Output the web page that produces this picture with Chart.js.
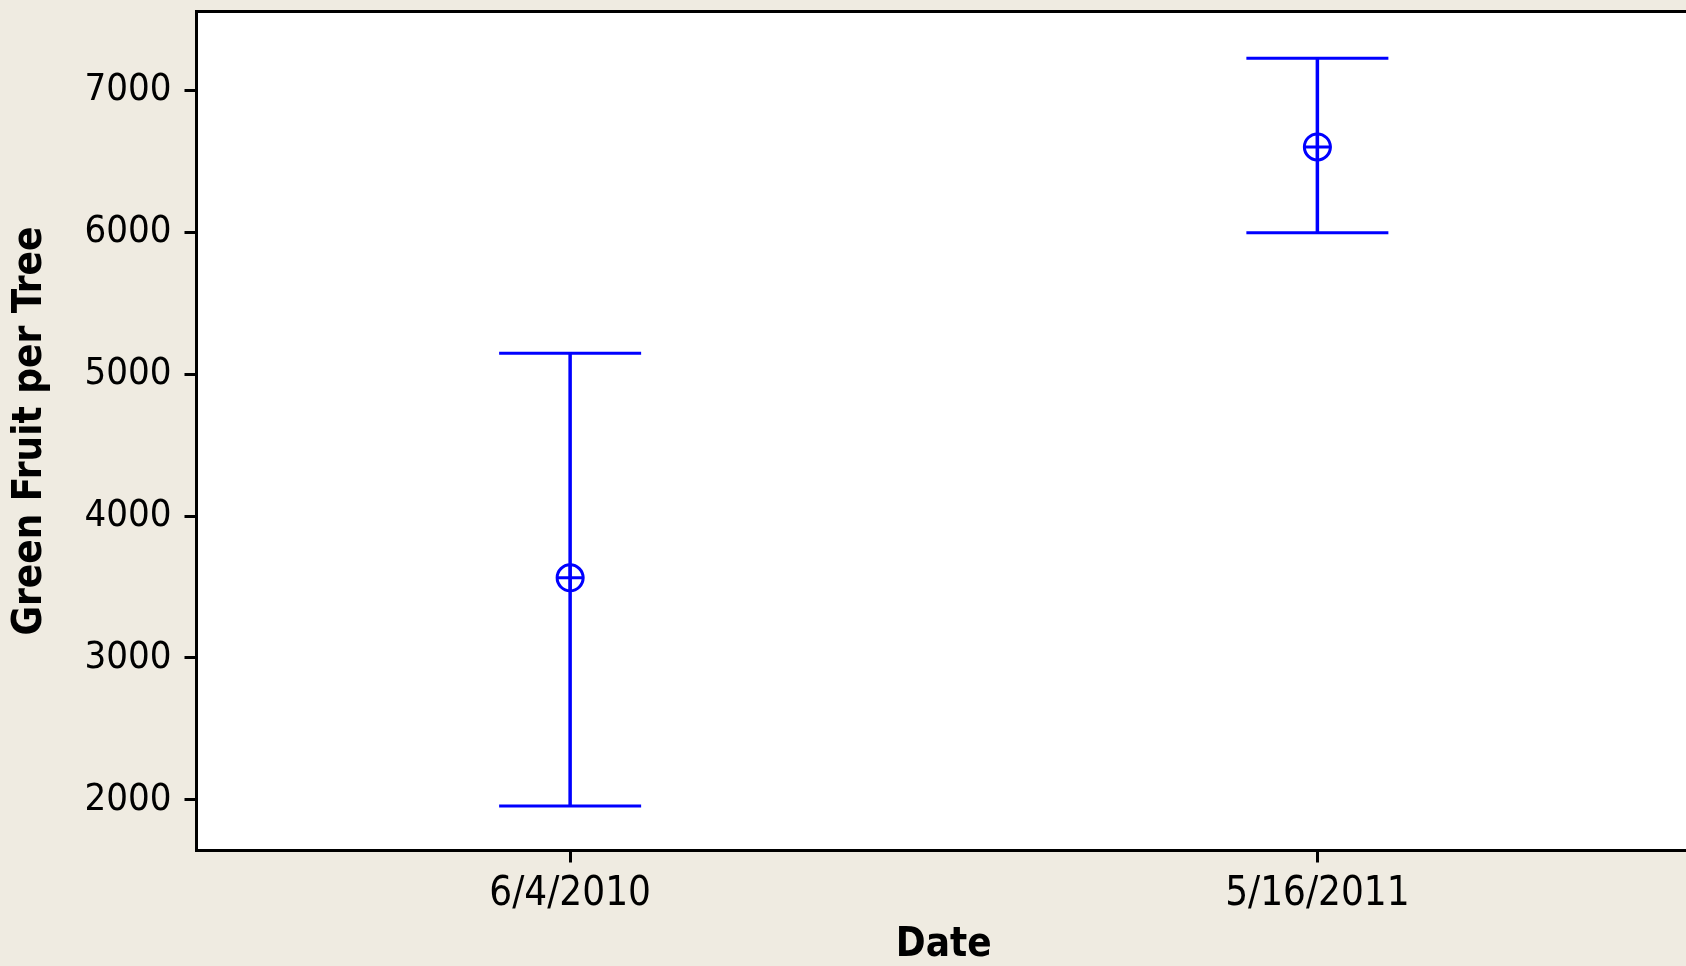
<!DOCTYPE html>
<html>
<head>
<meta charset="utf-8">
<script src="https://cdn.jsdelivr.net/npm/chart.js@4/dist/chart.umd.min.js"></script>
<style>
  html, body { margin: 0; padding: 0; overflow: hidden; background: #efebe1; }
  #wrap { width: 1692px; height: 966px; }
</style>
</head>
<body>
<div id="wrap"><canvas id="myChart"></canvas></div>
<script>
const dates = ['6/4/2010', '5/16/2011'];
const means = [3565, 6600];
const upper = [5147, 7225];
const lower = [1958, 5996];
const yTicks = [2000, 3000, 4000, 5000, 6000, 7000];

const fam = "'DejaVu Sans Condensed', 'Liberation Sans', sans-serif";
const blue = '#0000ff';

// white plot area + frame (no right edge, it runs off the picture)
const frame = {
  id: 'frame',
  beforeDraw(chart) {
    const a = chart.chartArea;
    const ctx = chart.ctx;
    ctx.save();
    ctx.fillStyle = '#ffffff';
    ctx.fillRect(a.left, a.top, a.right - a.left, a.bottom - a.top);
    ctx.restore();
  },
  afterDraw(chart) {
    const a = chart.chartArea;
    const ctx = chart.ctx;
    ctx.save();
    ctx.strokeStyle = '#000';
    ctx.lineWidth = 3;
    ctx.beginPath();
    ctx.moveTo(a.right + 5, a.top);
    ctx.lineTo(a.left, a.top);
    ctx.lineTo(a.left, a.bottom);
    ctx.lineTo(a.right + 5, a.bottom);
    ctx.stroke();
    ctx.restore();
  }
};

const errorBars = {
  id: 'errorBars',
  beforeDatasetsDraw(chart) {
    const { ctx, scales: { x, y } } = chart;
    ctx.save();
    ctx.strokeStyle = blue;
    dates.forEach((d, i) => {
      const px = x.getPixelForValue(i);
      const top = y.getPixelForValue(upper[i]);
      const bot = y.getPixelForValue(lower[i]);
      ctx.lineWidth = 3.5;
      ctx.beginPath();
      ctx.moveTo(px, top);
      ctx.lineTo(px, bot);
      ctx.stroke();
      ctx.lineWidth = 3;
      ctx.beginPath();
      ctx.moveTo(px - 71, top);
      ctx.lineTo(px + 71, top);
      ctx.moveTo(px - 71, bot);
      ctx.lineTo(px + 71, bot);
      ctx.stroke();
    });
    ctx.restore();
  }
};

const ctx = document.getElementById('myChart');
new Chart(ctx, {
  type: 'line',
  data: {
    labels: dates,
    datasets: [{
      data: means,
      showLine: false,
      pointStyle: 'cross',
      pointRadius: 14,
      borderWidth: 3,
      borderColor: blue
    }, {
      data: means,
      showLine: false,
      pointStyle: 'circle',
      pointRadius: 13,
      borderWidth: 3,
      borderColor: blue,
      backgroundColor: 'rgba(255,255,255,0)'
    }]
  },
  options: {
    responsive: true,
    maintainAspectRatio: false,
    animation: false,
    layout: { autoPadding: false, padding: { top: 11.5, right: 1, left: 0, bottom: 0 } },
    plugins: { legend: { display: false }, tooltip: { enabled: false } },
    scales: {
      x: {
        offset: true,
        afterFit(scale) { scale.height = 115.5; scale.paddingLeft = 0; scale.paddingRight = 0; },
        grid: { display: true, drawOnChartArea: false, drawTicks: true, tickLength: 12, tickWidth: 3, tickColor: '#000', offset: false },
        border: { display: false },
        ticks: { color: '#000', padding: 8, maxRotation: 0, font: { family: fam, size: 40 } },
        title: { display: true, text: 'Date', color: '#000', padding: { top: 0, bottom: 0 }, font: { family: fam, size: 40, weight: 'bold', lineHeight: 1 } }
      },
      y: {
        min: 1644,
        max: 7554,
        afterFit(scale) { scale.width = 196.5; scale.paddingTop = 0; scale.paddingBottom = 0; },
        afterBuildTicks(scale) { scale.ticks = yTicks.map(v => ({ value: v })); },
        grid: { display: true, drawOnChartArea: false, drawTicks: true, tickLength: 12, tickWidth: 3, tickColor: '#000' },
        border: { display: false },
        ticks: { color: '#000', padding: 13, font: { family: fam, size: 38 }, callback: v => String(v) },
        title: { display: true, text: 'Green Fruit per Tree', color: '#000', padding: { top: 11, bottom: 0 }, font: { family: fam, size: 40, weight: 'bold', lineHeight: 1 } }
      }
    }
  },
  plugins: [frame, errorBars]
});
</script>
</body>
</html>
